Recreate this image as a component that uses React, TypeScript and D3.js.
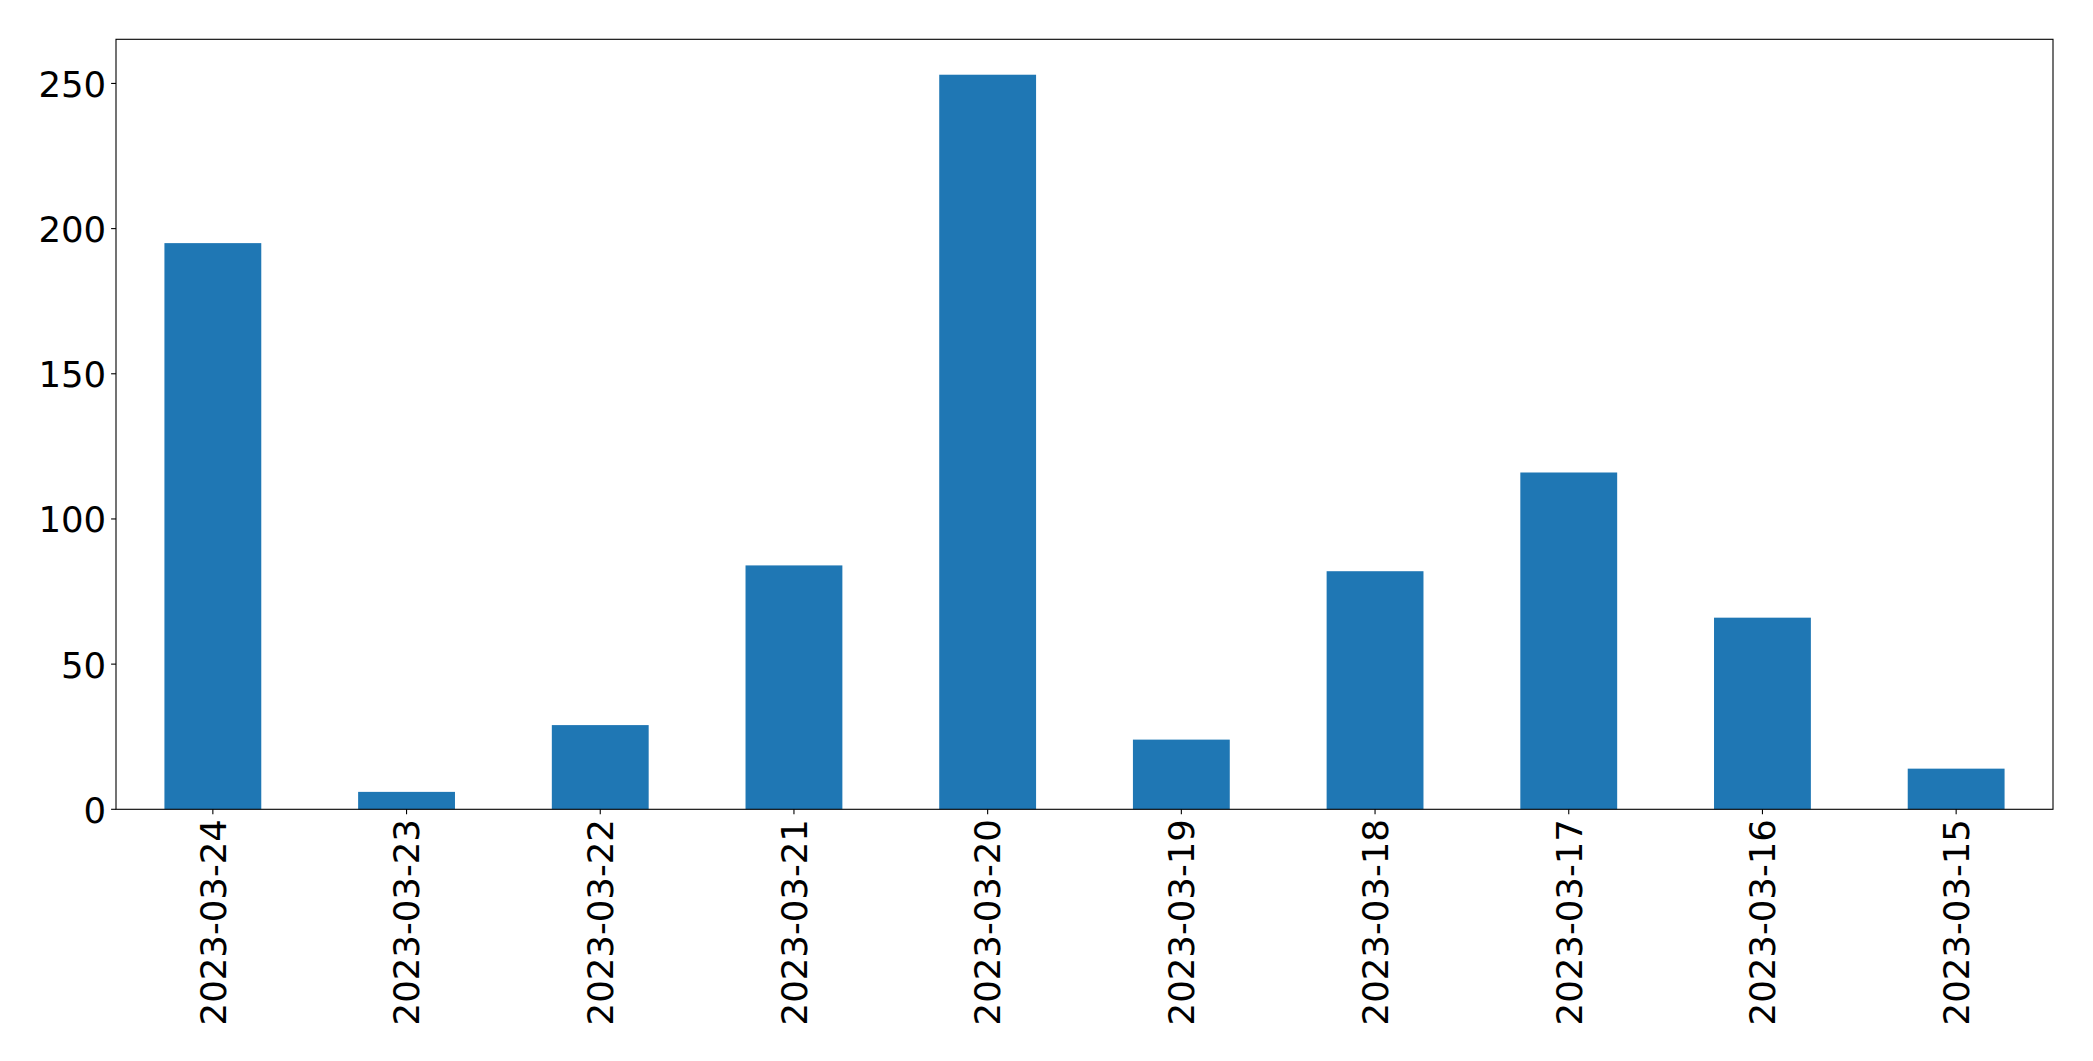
import React from "react";
import * as d3 from "d3";

const categories = ["2023-03-24","2023-03-23","2023-03-22","2023-03-21","2023-03-20","2023-03-19","2023-03-18","2023-03-17","2023-03-16","2023-03-15"];
const values = [195, 6, 29, 84, 253, 24, 82, 116, 66, 14];
const yTicks = [0, 50, 100, 150, 200, 250];

const W = 2093, H = 1061;
const M = { left: 116, right: 2053, top: 39.3, bottom: 809.3 };
const FONT = "DejaVu Sans, sans-serif";
const FS = 35.5;

export default function App() {
  const x = d3.scaleBand<string>().domain(categories).range([M.left, M.right]).paddingInner(0.5).paddingOuter(0.25);
  const y = d3.scaleLinear().domain([0, 265.2]).range([M.bottom, M.top]);
  const xc = (c: string) => (x(c) as number) + x.bandwidth() / 2;
  return (
    <svg width={W} height={H} style={{ position: "absolute", left: 0, top: 0, background: "#fff" }}>
      <rect x={0} y={0} width={W} height={H} fill="#fff" />
      {categories.map((c, i) => (
        <rect key={c} x={x(c)} y={y(values[i])} width={x.bandwidth()} height={y(0) - y(values[i])} fill="#1f77b4" />
      ))}
      <rect x={M.left} y={M.top} width={M.right - M.left} height={M.bottom - M.top} fill="none" stroke="#000" strokeWidth={1.1} />
      {yTicks.map((t) => (
        <g key={t}>
          <line x1={M.left - 4.9} x2={M.left} y1={y(t)} y2={y(t)} stroke="#000" strokeWidth={1.1} />
          <text x={M.left - 9.8} y={y(t)} dy="0.38em" textAnchor="end" fontFamily={FONT} fontSize={FS} fill="#000">{t}</text>
        </g>
      ))}
      {categories.map((c) => (
        <g key={c}>
          <line x1={xc(c)} x2={xc(c)} y1={M.bottom} y2={M.bottom + 4.9} stroke="#000" strokeWidth={1.1} />
          <text transform={`translate(${xc(c)},${M.bottom + 9.8}) rotate(-90)`} dy="0.36em" textAnchor="end" fontFamily={FONT} fontSize={FS} fill="#000">{c}</text>
        </g>
      ))}
    </svg>
  );
}
